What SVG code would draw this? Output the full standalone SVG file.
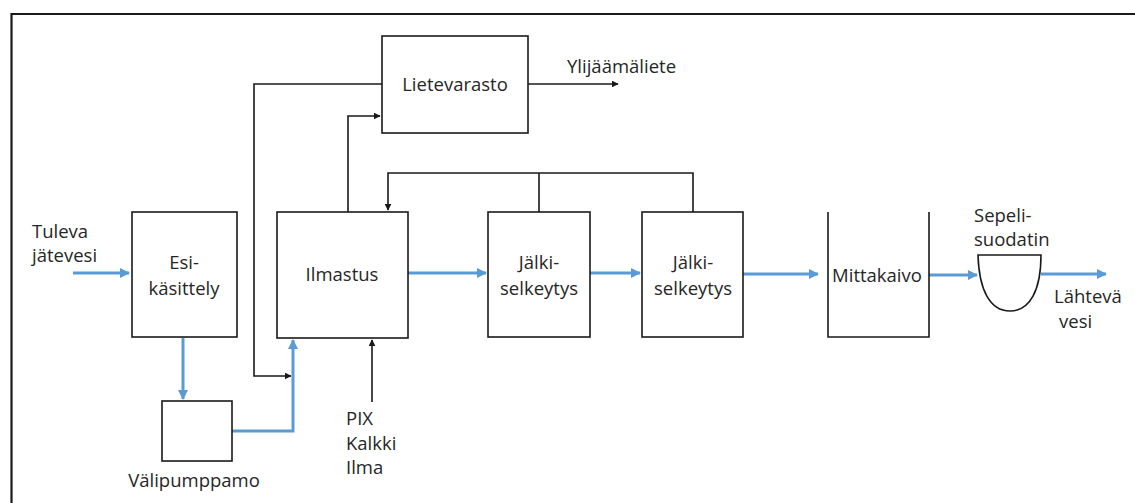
<svg xmlns="http://www.w3.org/2000/svg" width="1135" height="503" viewBox="0 0 1135 503">
  <style>
    .box { fill: #ffffff; stroke: #1a1a1a; stroke-width: 1.6; }
    .ln { fill: none; stroke: #1a1a1a; stroke-width: 1.6; }
    .flow { fill: none; stroke: #5b9bd5; stroke-width: 3; }
    .lbl { font-family: "Open Sans", "Liberation Sans", Arial, sans-serif; font-size: 18.5px; fill: #262626; }
    .c { text-anchor: middle; }
  </style>
  <defs>
    <marker id="ah" viewBox="0 0 10 10" refX="9" refY="5" markerWidth="7" markerHeight="7" markerUnits="userSpaceOnUse" orient="auto">
      <path d="M0,0 L10,5 L0,10 Z" fill="#1a1a1a"/>
    </marker>
    <marker id="ahb" viewBox="0 0 10 10" refX="9" refY="5" markerWidth="10" markerHeight="10" markerUnits="userSpaceOnUse" orient="auto">
      <path d="M0,0 L10,5 L0,10 Z" fill="#5b9bd5"/>
    </marker>
  </defs>

  <rect width="1135" height="503" fill="#ffffff"/>
  <!-- frame -->
  <path d="M11.5,503 V14 H1135" fill="none" stroke="#1a1a1a" stroke-width="2.2"/>

  <g id="connectors">
    <!-- sludge lines -->
    <path class="ln" d="M528,84 H618" marker-end="url(#ah)"/>
    <path class="ln" d="M382,84 H254 V376 H291" marker-end="url(#ah)"/>
    <path class="ln" d="M348,212 V116 H380" marker-end="url(#ah)"/>
    <path class="ln" d="M693,212 V173 H388 V210" marker-end="url(#ah)"/>
    <path class="ln" d="M539,212 V173"/>
    <path class="ln" d="M372,402 V340" marker-end="url(#ah)"/>
    <!-- water flow -->
    <path class="flow" d="M73,273 H129" marker-end="url(#ahb)"/>
    <path class="flow" d="M183,338 V399" marker-end="url(#ahb)"/>
    <path class="flow" d="M232,431 H293 V340" marker-end="url(#ahb)"/>
    <path class="flow" d="M408,273 H486" marker-end="url(#ahb)"/>
    <path class="flow" d="M590,273 H640" marker-end="url(#ahb)"/>
    <path class="flow" d="M743,274 H818" marker-end="url(#ahb)"/>
    <path class="flow" d="M929,275 H977" marker-end="url(#ahb)"/>
    <path class="flow" d="M1041,274 H1106" marker-end="url(#ahb)"/>
  </g>

  <g id="lietevarasto">
    <rect class="box" x="382" y="36" width="146" height="97"/>
    <text class="lbl c" x="455" y="91">Lietevarasto</text>
  </g>
  <g id="ylijaamaliete">
    <text class="lbl" x="567" y="73">Ylijäämäliete</text>
  </g>
  <g id="tuleva">
    <text class="lbl" x="32" y="238">Tuleva</text>
    <text class="lbl" x="32" y="262">jätevesi</text>
  </g>
  <g id="esikasittely">
    <rect class="box" x="132" y="212" width="105" height="125"/>
    <text class="lbl c" x="184" y="269">Esi-</text>
    <text class="lbl c" x="184" y="295">käsittely</text>
  </g>
  <g id="valipumppamo">
    <rect class="box" x="162" y="401" width="70" height="60"/>
    <text class="lbl c" x="194" y="487">Välipumppamo</text>
  </g>
  <g id="ilmastus">
    <rect class="box" x="277" y="212" width="131" height="126"/>
    <text class="lbl c" x="342" y="281">Ilmastus</text>
  </g>
  <g id="kemikaalit">
    <text class="lbl" x="346" y="425">PIX</text>
    <text class="lbl" x="346" y="450">Kalkki</text>
    <text class="lbl" x="346" y="474">Ilma</text>
  </g>
  <g id="jalkiselkeytys1">
    <rect class="box" x="488" y="212" width="102" height="125"/>
    <text class="lbl c" x="539" y="269">Jälki-</text>
    <text class="lbl c" x="539" y="295">selkeytys</text>
  </g>
  <g id="jalkiselkeytys2">
    <rect class="box" x="642" y="212" width="101" height="125"/>
    <text class="lbl c" x="693" y="269">Jälki-</text>
    <text class="lbl c" x="693" y="295">selkeytys</text>
  </g>
  <g id="mittakaivo">
    <path class="ln" d="M828,212 V337 H929 V212"/>
    <text class="lbl c" x="877" y="282">Mittakaivo</text>
  </g>
  <g id="sepelisuodatin">
    <path class="ln" d="M978,255 H1041 C1041,290 1030,311 1010,311 C990,311 979,290 978,255 Z"/>
    <text class="lbl" x="974" y="222">Sepeli-</text>
    <text class="lbl" x="974" y="246">suodatin</text>
  </g>
  <g id="lahteva">
    <text class="lbl" x="1054" y="303">Lähtevä</text>
    <text class="lbl" x="1059" y="328">vesi</text>
  </g>
</svg>
